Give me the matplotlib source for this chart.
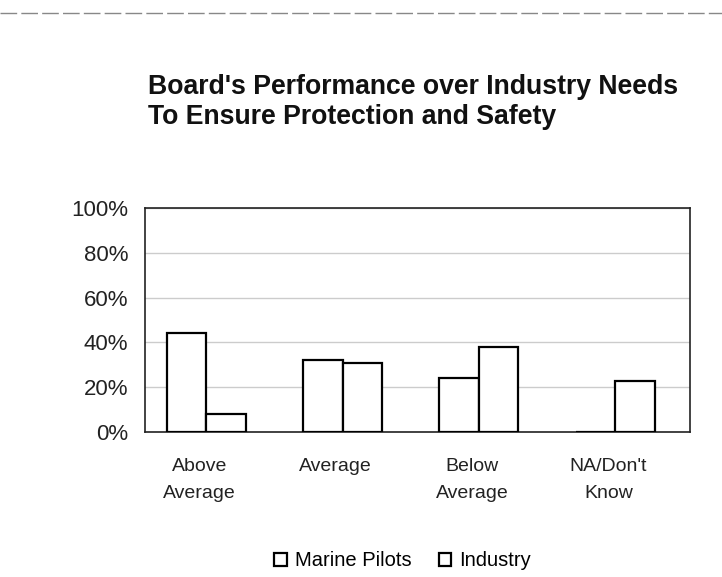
import matplotlib.pyplot as plt
import numpy as np
from matplotlib.ticker import PercentFormatter

plt.rcParams['font.family'] = ['Liberation Sans', 'DejaVu Sans']

categories = ["Above\nAverage", "Average", "Below\nAverage", "NA/Don't\nKnow"]
marine_pilots = [44, 32, 24, 0]
industry = [8, 31, 38, 23]
yticks = [0, 20, 40, 60, 80, 100]

fig = plt.figure(figsize=(7.22, 5.77), dpi=100)
ax = fig.add_axes([0.2008, 0.2513, 0.755, 0.388])

x = np.arange(len(categories))
w = 0.29
ax.bar(x - w / 2, marine_pilots, w, color='white', edgecolor='black', linewidth=1.6, label='Marine Pilots', zorder=3)
ax.bar(x + w / 2, industry, w, color='white', edgecolor='black', linewidth=1.6, label='Industry', zorder=3)

ax.set_xlim(-0.45, 3.55)
ax.set_ylim(0, 100)
ax.set_yticks(yticks)
ax.yaxis.set_major_formatter(PercentFormatter(decimals=0))
ax.set_xticks(x - 0.05)
ax.set_xticklabels(categories, fontsize=14, color='#222222', linespacing=1.75)
ax.tick_params(axis='y', labelsize=16, length=0, pad=12, labelcolor='#222222')
ax.tick_params(axis='x', length=0, pad=19)
ax.grid(axis='y', color='#cccccc', linewidth=1, zorder=0)
for s in ax.spines.values():
    s.set_linewidth(1.2)
    s.set_color('#222222')

fig.text(0.205, 0.823, "Board's Performance over Industry Needs\nTo Ensure Protection and Safety",
         fontsize=19.2, fontweight='bold', ha='left', va='center', linespacing=1.22, color='#111111')

fig.legend(loc='center', bbox_to_anchor=(0.558, 0.028), ncol=2, frameon=False, fontsize=14.5,
           handlelength=0.6, handleheight=0.6, handletextpad=0.4, columnspacing=1.4)

fig.add_artist(plt.Line2D([0, 1], [0.978, 0.978], transform=fig.transFigure,
                          color='#888888', linewidth=1, linestyle=(0, (12, 3))))

fig.savefig('out.png', dpi=100)
